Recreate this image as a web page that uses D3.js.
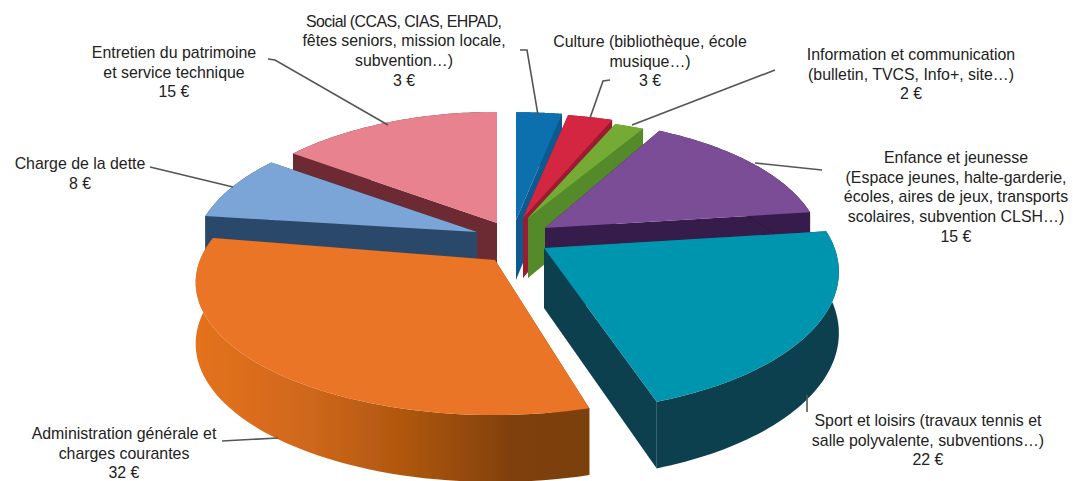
<!DOCTYPE html>
<html><head><meta charset="utf-8">
<script src="https://cdn.jsdelivr.net/npm/d3@7"></script>
<style>html,body{margin:0;padding:0;background:#fff}svg{display:block}</style>
</head><body><svg id="c" width="1073" height="481"></svg>
<script>
// ---- data
const categories = ["Social","Culture","Information","Enfance","Sport","Administration","Dette","Entretien"];
const values = [3,3,2,15,22,32,8,15];
const topColors = ["#0b6fae","#d4263f","#74aa35","#7a4d96","#0595ae","#ea7425","#7aa5d6","#e8828f"];
const sideColors = ["#0a5a90","#9a1b32","#558a29","#341a4b","#0b3f50","#7c3f0c","#2c4a6b","#6e2b33"];
const labels = [
  ["Social (CCAS, CIAS, EHPAD,","fêtes seniors, mission locale,","subvention…)","3 €"],
  ["Culture (bibliothèque, école","musique…)","3 €"],
  ["Information et communication","(bulletin, TVCS, Info+, site…)","2 €"],
  ["Enfance et jeunesse","(Espace jeunes, halte-garderie,","écoles, aires de jeux, transports","scolaires, subvention CLSH…)","15 €"],
  ["Sport et loisirs (travaux tennis et","salle polyvalente, subventions…)","22 €"],
  ["Administration générale et","charges courantes","32 €"],
  ["Charge de la dette","8 €"],
  ["Entretien du patrimoine","et service technique","15 €"]
];
// ---- layout (kept apart from the data)
const apexX = [516,523,528,545,544,495,477,497];
const apexY = [220,218,218,228,248,260,232,223];
const radiusX = [0.97,0.95,0.93,0.925,0.985,1,0.948,0.94];
const radiusY = [0.97,0.94,0.9,0.98,1.05,0.99,1,1];
const startNudge = [0,0,0,0,0,2.5,0,0];
const endNudge = [0,0,0,0,-1,3,0,0];
const labelX = [404,650,911,956,928,124,80,174];
const labelY = [26.5,47,60,163,426,439,169,58];
const leaders = [
  [[520,50],[527,50],[538,115]],
  [[610,80],[603,81],[590,118]],
  [[775,70],[632,125]],
  [[755,163],[822,170]],
  [[807,395],[807,412]],
  [[222,441],[278,438]],
  [[150,167],[233,187]],
  [[268,59],[275,60],[388,125]]
];
const drawOrder = [7,0,1,2,3,6,4,5];
const Rx = 295, Ry = 130, K = 0.17, DEPTH = 60, DEPTH_V = 7;
const fitWidth = {"Social (CCAS, CIAS, EHPAD,":196};

const svg = d3.select("#c");
const defs = svg.append("defs");
const grad = defs.append("linearGradient").attr("id","adminSide")
  .attr("gradientUnits","userSpaceOnUse").attr("x1",195).attr("x2",570).attr("y1",0).attr("y2",0);
[[0,"#e5721f"],[0.3,"#cf681b"],[0.55,"#b0570f"],[0.85,"#7f400c"],[1,"#7c3f0c"]].forEach(s=>
  grad.append("stop").attr("offset",s[0]).attr("stop-color",s[1]));
defs.append("filter").attr("id","soft").attr("x","-5%").attr("y","-5%").attr("width","110%").attr("height","110%")
  .append("feGaussianBlur").attr("stdDeviation",0.5);

const pie = d3.pie().sort(null).value(d=>d);
const arcs = pie(values);
const color = d3.scaleOrdinal().domain(categories).range(topColors);
const side = d3.scaleOrdinal().domain(categories).range(sideColors);
const line = d3.line();
const rad = d3.scaleLinear().domain([0,180]).range([0,Math.PI]);

function project(i, a, r, down){
  const u = Math.sin(a)*r, v = -Math.cos(a)*r, w = 1-K*v;
  const dz = down ? DEPTH + DEPTH_V*v : 0;
  return [apexX[i] + Rx*radiusX[i]*u/w, apexY[i] + Ry*radiusY[i]*v/w + dz];
}
function rim(i, a0, a1, down){
  const n = 60;
  return d3.range(n+1).map(k=>project(i, a0+(a1-a0)*k/n, 1, down));
}

const g = svg.append("g").attr("filter","url(#soft)");
drawOrder.forEach(i=>{
  const d = arcs[i], name = categories[i];
  const a0 = d.startAngle + rad(startNudge[i]), a1 = d.endAngle + rad(endNudge[i]);
  const slice = g.append("g").attr("class","slice").attr("data-name",name);
  const wall = (a)=> [project(i,a,0,false),project(i,a,1,false),project(i,a,1,true),project(i,a,0,true)];
  slice.append("path").attr("d",line(wall(a0))+"Z").attr("fill",side(name));
  slice.append("path").attr("d",line(wall(a1))+"Z").attr("fill",side(name));
  slice.append("path").attr("d",line(rim(i,a0,a1,false).concat(rim(i,a0,a1,true).reverse()))+"Z")
    .attr("fill", name==="Administration" ? "url(#adminSide)" : side(name));
  slice.append("path").attr("d",line([project(i,a0,0,false)].concat(rim(i,a0,a1,false)))+"Z")
    .attr("fill",color(name));
});

const lg = svg.append("g").attr("filter","url(#soft)");
leaders.forEach(p=>{
  lg.append("path").attr("d",line(p)).attr("fill","none")
    .attr("stroke","#555").attr("stroke-width",1.6);
});

labels.forEach((lines,i)=>{
  const t = svg.append("text").attr("text-anchor","middle")
    .attr("font-family","'Liberation Sans',Arial,sans-serif").attr("font-size",15.9).attr("fill","#222");
  lines.forEach((s,j)=>{
    const ts = t.append("tspan").attr("x",labelX[i]).attr("y",labelY[i]+j*19.7).text(s);
    if (fitWidth[s]) ts.attr("textLength",fitWidth[s]);
  });
});
</script></body></html>
